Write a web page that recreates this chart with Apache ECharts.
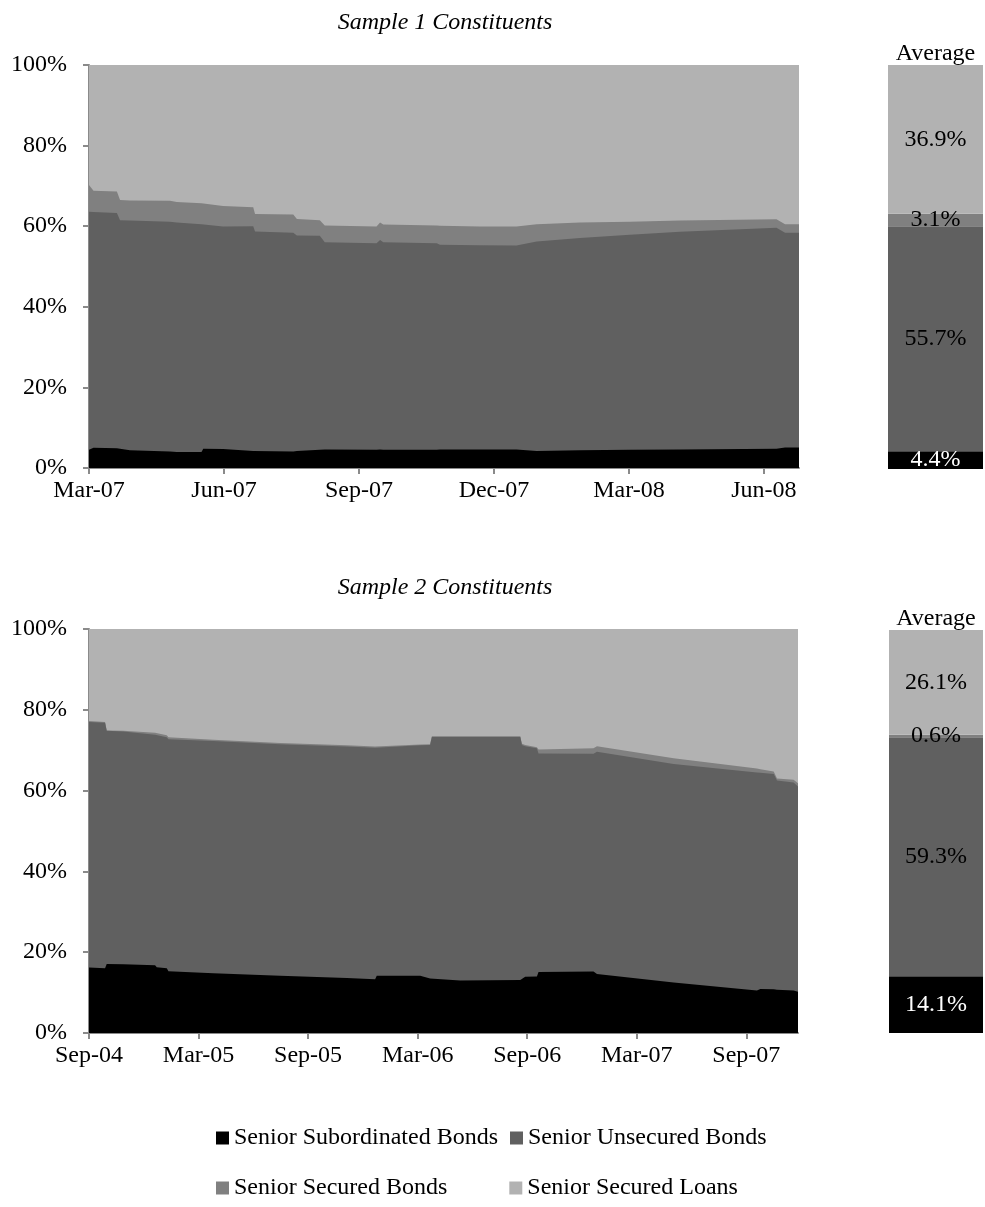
<!DOCTYPE html>
<html><head><meta charset="utf-8">
<script src="https://cdn.jsdelivr.net/npm/echarts@6/dist/echarts.min.js"></script>
<style>html,body{margin:0;padding:0;background:#fff}#c{width:985px;height:1207px}</style>
</head><body><div id="c"></div>
<script>
// ---------- DATA ----------
const names = ['Senior Subordinated Bonds','Senior Unsecured Bonds','Senior Secured Bonds','Senior Secured Loans'];

// Sample 1: months since Mar-07
const s1Months = [0,0.1,0.62,0.69,0.91,1.8,1.95,2.5,2.54,2.98,3.65,3.69,4.54,4.62,5.13,5.24,6.39,6.47,6.54,7.73,7.8,8.69,9.5,9.95,10.91,12.02,13.13,15.28,15.47,15.78];
const s1Sub = [4.5,5.0,4.9,4.8,4.4,4.1,4.0,4.0,4.8,4.7,4.2,4.2,4.1,4.2,4.5,4.6,4.5,4.6,4.5,4.5,4.6,4.6,4.6,4.2,4.4,4.5,4.6,4.8,5.1,5.1];
const s1Unsec = [59.1,58.5,58.4,56.7,57.0,57.0,56.9,56.5,55.5,55.2,55.8,54.5,54.3,53.5,53.1,51.4,51.3,52.0,51.5,51.3,50.8,50.7,50.6,52.0,52.7,53.4,54.0,54.8,53.3,53.3];
const s1SecBonds = [6.6,5.3,5.3,5.0,5.0,5.2,5.1,5.2,5.0,5.1,4.7,4.3,4.5,4.1,3.9,4.2,4.1,4.3,4.4,4.4,4.7,4.6,4.7,4.3,3.8,3.2,2.8,2.1,2.1,2.1];
const s1Loans = [29.8,31.2,31.4,33.5,33.6,33.7,34.0,34.3,34.7,35.0,35.3,37.0,37.1,38.2,38.5,39.8,40.1,39.1,39.6,39.8,39.9,40.1,40.1,39.5,39.1,38.9,38.6,38.3,39.5,39.5];
const s1TickLabels = ['Mar-07','Jun-07','Sep-07','Dec-07','Mar-08','Jun-08'];
const s1TickStep = 3;

// Sample 2: months since Sep-04
const s2Months = [0,0.88,0.97,1.88,1.97,3.62,3.71,4.26,4.35,6.81,10.47,14.12,15.67,15.76,18.14,18.68,18.78,20.33,23.62,23.71,23.89,24.53,24.62,27.63,27.82,32.02,36.58,36.77,37.5,37.68,38.59,38.83];
const s2Sub = [16.2,16.0,17.1,17.0,17.4,16.8,16.3,16.0,15.3,14.8,14.2,13.6,13.3,14.2,14.2,13.5,13.2,13.0,13.1,13.1,13.9,14.0,15.1,15.2,14.6,12.5,10.5,10.9,10.8,10.7,10.5,10.2];
const s2Unsec = [60.8,60.8,57.7,57.6,56.8,57.0,57.2,57.2,57.4,57.5,57.3,57.3,57.3,56.7,57.0,57.8,60.1,60.3,60.2,58.2,57.1,56.5,54.1,53.9,55.0,54.1,54.0,53.5,53.3,51.8,51.5,50.8];
const s2SecBonds = [0.2,0.2,0.1,0.2,0.7,0.5,0.5,0.5,0.5,0.3,0.3,0.3,0.3,0.2,0.2,0.2,0.1,0.1,0.1,0.3,0.3,0.2,1.0,1.4,1.4,1.4,1.0,0.9,0.6,0.5,0.7,0.8];
const s2Loans = [22.8,23.0,25.1,25.2,25.1,25.7,26.0,26.3,26.8,27.4,28.2,28.8,29.1,28.9,28.6,28.5,26.6,26.6,26.6,28.4,28.7,29.3,29.8,29.5,29.0,32.0,34.5,34.7,35.3,37.0,37.3,38.2];
const s2TickLabels = ['Sep-04','Mar-05','Sep-05','Mar-06','Sep-06','Mar-07','Sep-07'];
const s2TickStep = 6;

const avg1 = [4.4,55.7,3.1,36.9];
const avg2 = [14.1,59.3,0.6,26.1];
const titles = ['Sample 1 Constituents','Sample 2 Constituents'];
const avgLabel = ['Average'];

// ---------- STYLE ----------
const colors = ['#000000','#606060','#808080','#b2b2b2'];
const FONT = "'Liberation Serif','Times New Roman',serif";
const AXIS = '#8a8a8a';

function cumulative(months, layers) {
  return layers.map((_, li) => months.map((m, i) => {
    let s = 0; for (let k = 0; k <= li; k++) s += layers[k][i];
    return [m, +s.toFixed(2)];
  }));
}
const c1 = cumulative(s1Months, [s1Sub, s1Unsec, s1SecBonds, s1Loans]);
const c2 = cumulative(s2Months, [s2Sub, s2Unsec, s2SecBonds, s2Loans]);

function mainX(grid, months, labels, step) {
  const ticks = labels.map((_, i) => i * step);
  return {
    type: 'value', gridIndex: grid, min: 0, max: months[months.length - 1],
    interval: step,
    axisLine: {show: true, onZero: false, lineStyle: {color: AXIS, width: 2}},
    axisTick: {show: true, length: 6, customValues: ticks, lineStyle: {color: AXIS, width: 2}},
    axisLabel: {customValues: ticks, formatter: v => labels[Math.round(v / step)] || '',
      fontFamily: FONT, fontSize: 24, color: '#000', margin: 11},
    splitLine: {show: false}
  };
}
function mainY(grid) {
  return {
    type: 'value', gridIndex: grid, min: 0, max: 100, interval: 20,
    axisLine: {show: true, lineStyle: {color: AXIS, width: 2}},
    axisTick: {show: true, length: 6, lineStyle: {color: AXIS, width: 2}},
    axisLabel: {formatter: '{value}%', fontFamily: FONT, fontSize: 24, color: '#000', margin: 22},
    splitLine: {show: false}
  };
}
function avgX(grid) {
  return {
    type: 'category', gridIndex: grid, position: 'top', data: avgLabel,
    axisLine: {show: false}, axisTick: {show: false},
    axisLabel: {fontFamily: FONT, fontSize: 24, color: '#000', margin: -1}
  };
}
function avgY(grid) {
  return {type: 'value', gridIndex: grid, min: 0, max: 100, show: false, splitLine: {show: false}};
}

const series = [];
[[c1, 0], [c2, 2]].forEach(([c, ax]) => {
  for (let li = 3; li >= 0; li--) {
    series.push({
      name: names[li], type: 'line', xAxisIndex: ax, yAxisIndex: ax,
      data: c[li], symbol: 'none', showSymbol: false, silent: true,
      lineStyle: {width: 0, color: colors[li]},
      itemStyle: {color: colors[li]},
      areaStyle: {color: colors[li], opacity: 1},
      animation: false
    });
  }
});
[[avg1, 1, 'b1'], [avg2, 3, 'b2']].forEach(([avg, ax, st]) => {
  avg.forEach((v, li) => {
    series.push({
      name: names[li], type: 'bar', xAxisIndex: ax, yAxisIndex: ax, stack: st,
      barWidth: '100%', data: [v], itemStyle: {color: colors[li]},
      label: {show: true, position: 'inside', color: li === 0 ? '#fff' : '#000',
        fontFamily: FONT, fontSize: 24, formatter: p => p.value.toFixed(1) + '%'},
      animation: false
    });
  });
});

const legendCommon = {
  left: 216, orient: 'horizontal', icon: 'rect', itemWidth: 13, itemHeight: 13,
  padding: 0, selectedMode: false,
  textStyle: {fontFamily: FONT, fontSize: 24, color: '#000'}
};

const option = {
  animation: false,
  backgroundColor: '#fff',
  textStyle: {fontFamily: FONT},
  title: [
    {text: titles[0], left: 445, top: 11, padding: 0, textAlign: 'center',
      textStyle: {fontFamily: FONT, fontSize: 24, fontStyle: 'italic', fontWeight: 'normal', color: '#000'}},
    {text: titles[1], left: 445, top: 576, padding: 0, textAlign: 'center',
      textStyle: {fontFamily: FONT, fontSize: 24, fontStyle: 'italic', fontWeight: 'normal', color: '#000'}}
  ],
  grid: [
    {left: 89, top: 65, width: 710, height: 403, containLabel: false},
    {left: 888, top: 65, width: 95, height: 404, containLabel: false},
    {left: 89, top: 629, width: 709, height: 404, containLabel: false},
    {left: 889, top: 630, width: 94, height: 403, containLabel: false}
  ],
  xAxis: [mainX(0, s1Months, s1TickLabels, s1TickStep), avgX(1), mainX(2, s2Months, s2TickLabels, s2TickStep), avgX(3)],
  yAxis: [mainY(0), avgY(1), mainY(2), avgY(3)],
  legend: [
    Object.assign({}, legendCommon, {top: 1126, itemGap: 12, data: [names[0], names[1]]}),
    Object.assign({}, legendCommon, {top: 1176, itemGap: 62, data: [names[2], names[3]]})
  ],
  series: series
};

const chart = echarts.init(document.getElementById('c'), null, {renderer: 'canvas'});
chart.setOption(option);
</script>
</body></html>
